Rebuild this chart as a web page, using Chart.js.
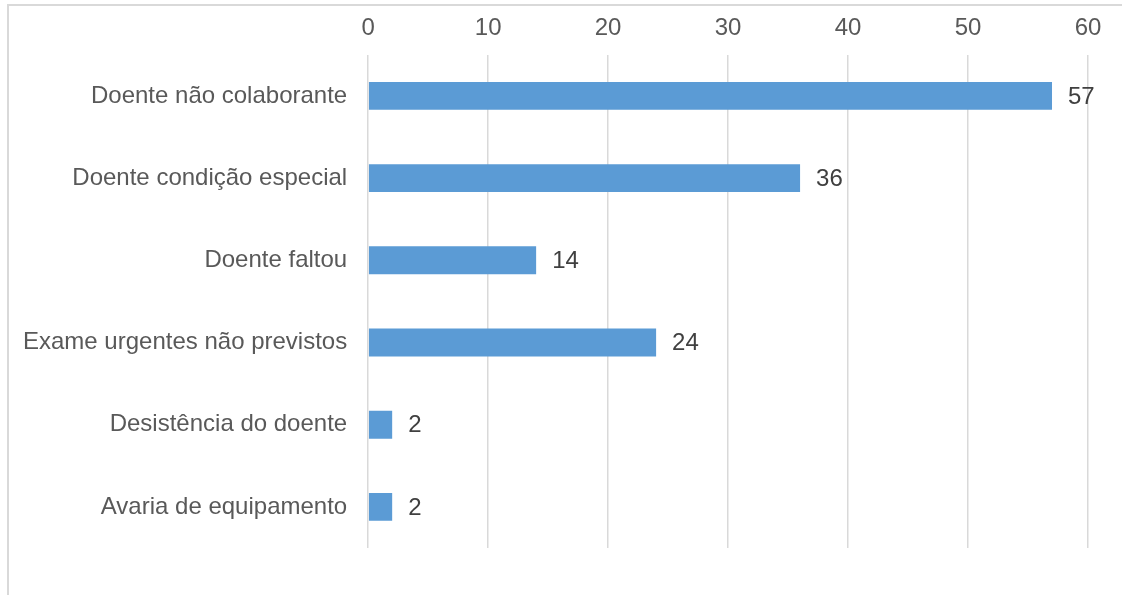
<!DOCTYPE html>
<html>
<head>
<meta charset="utf-8">
<script src="https://cdn.jsdelivr.net/npm/chart.js@4.4.1/dist/chart.umd.min.js"></script>
<style>
  html, body { margin: 0; padding: 0; background: #fff; }
  #wrap { position: relative; width: 1122px; height: 595px; overflow: hidden; }
  #frame { position: absolute; left: 7px; top: 4px; width: 1200px; height: 700px;
           border-left: 2px solid #d9d9d9; border-top: 2px solid #d9d9d9; }
  canvas { position: absolute; left: 0; top: 0; }
</style>
</head>
<body>
<div id="wrap">
  <div id="frame"></div>
  <canvas id="chart" width="1122" height="595"></canvas>
</div>
<script>
// ── data ────────────────────────────────────────────
const categories = [
  "Doente não colaborante",
  "Doente condição especial",
  "Doente faltou",
  "Exame urgentes não previstos",
  "Desistência do doente",
  "Avaria de equipamento"
];
const counts = [57, 36, 14, 24, 2, 2];
const xTicks = [0, 10, 20, 30, 40, 50, 60];

const BAR = "#5b9bd5";
const TEXT = "#595959";
const GRID = "#d9d9d9";
const FONT = "'Liberation Sans', Arial, sans-serif";

Chart.defaults.font.family = FONT;
Chart.defaults.font.size = 24;
Chart.defaults.color = TEXT;

// value labels at bar ends
const barValues = {
  id: "barValues",
  afterDatasetsDraw(chart) {
    const ctx = chart.ctx;
    const meta = chart.getDatasetMeta(0);
    ctx.save();
    ctx.font = "24px " + FONT;
    ctx.fillStyle = "#404040";
    ctx.textAlign = "left";
    ctx.textBaseline = "middle";
    meta.data.forEach((bar, i) => {
      ctx.fillText(String(counts[i]), bar.x + 16, bar.y + 1);
    });
    ctx.restore();
  }
};

new Chart(document.getElementById("chart"), {
  type: "bar",
  data: {
    labels: categories,
    datasets: [{
      data: counts,
      backgroundColor: BAR,
      barPercentage: 0.34,
      categoryPercentage: 1
    }]
  },
  options: {
    indexAxis: "y",
    responsive: false,
    animation: false,
    layout: { padding: { top: 2, bottom: 47, left: 10, right: 34 } },
    plugins: { legend: { display: false }, tooltip: { enabled: false } },
    scales: {
      x: {
        position: "top",
        min: 0,
        max: 60,
        afterBuildTicks: axis => { axis.ticks = xTicks.map(v => ({ value: v })); },
        grid: { color: GRID, lineWidth: 1.5, drawTicks: false },
        border: { display: false },
        ticks: { padding: 12, color: TEXT }
      },
      y: {
        grid: { display: false },
        border: { display: false },
        ticks: { padding: 13, color: TEXT }
      }
    }
  },
  plugins: [barValues]
});
</script>
</body>
</html>
